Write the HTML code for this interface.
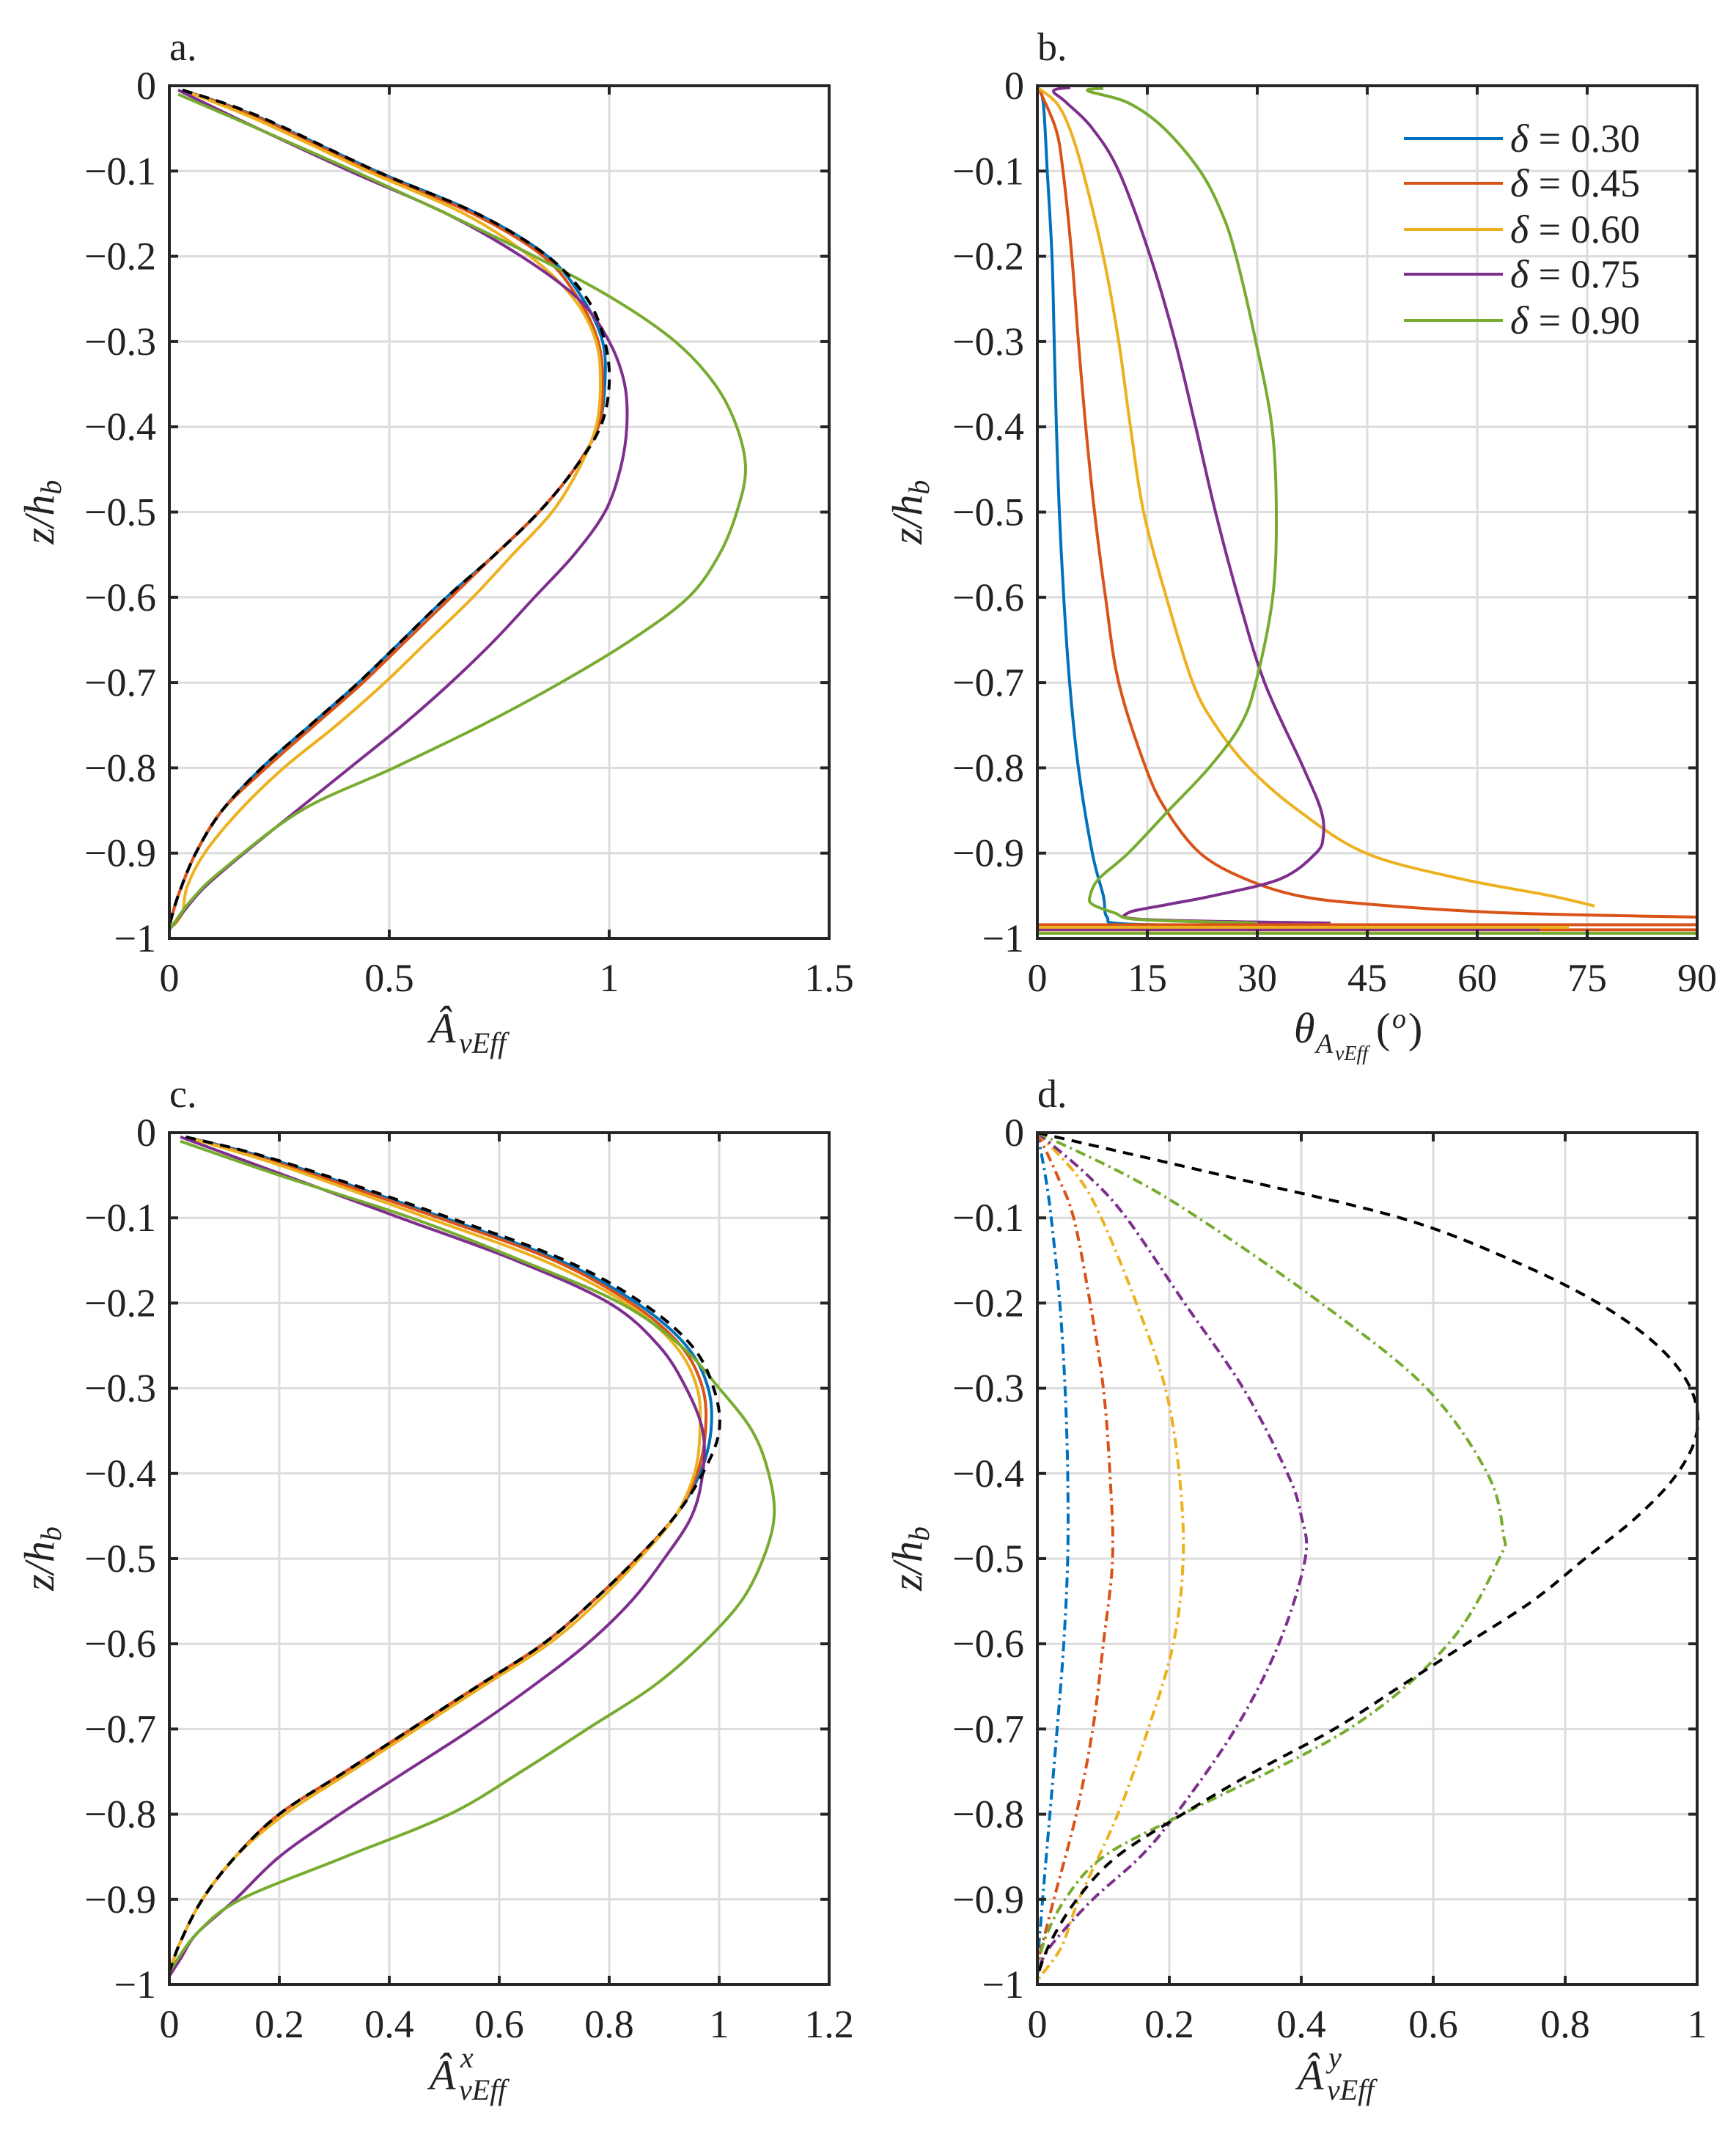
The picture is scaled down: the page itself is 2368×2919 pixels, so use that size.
<!DOCTYPE html>
<html><head><meta charset="utf-8">
<style>
html,body{margin:0;padding:0;background:#fff;}
svg{display:block;}
text{font-family:"Liberation Serif","DejaVu Serif",serif;fill:#222;}
</style></head>
<body>
<svg id="s" width="2368" height="2919" viewBox="0 0 2368 2919" xmlns="http://www.w3.org/2000/svg"></svg>
<script>
const NS="http://www.w3.org/2000/svg";
const S=document.getElementById('s');
function el(t,a,txt){const e=document.createElementNS(NS,t);for(const k in a)e.setAttribute(k,a[k]);if(txt!==undefined)e.textContent=txt;S.appendChild(e);return e;}
const C=['#0072BD','#D95319','#EDB120','#7E2F8E','#77AC30'];
function crPath(pts){let d='M'+pts[0][0].toFixed(1)+','+pts[0][1].toFixed(1);
 for(let i=0;i<pts.length-1;i++){const p0=pts[Math.max(0,i-1)],p1=pts[i],p2=pts[i+1],p3=pts[Math.min(pts.length-1,i+2)];
 const c1=[p1[0]+(p2[0]-p0[0])/6,p1[1]+(p2[1]-p0[1])/6],c2=[p2[0]-(p3[0]-p1[0])/6,p2[1]-(p3[1]-p1[1])/6];
 d+=' C'+c1[0].toFixed(1)+','+c1[1].toFixed(1)+' '+c2[0].toFixed(1)+','+c2[1].toFixed(1)+' '+p2[0].toFixed(1)+','+p2[1].toFixed(1);}
 return d;}
function axes(o){
 const {x0,x1,y0,y1,xmax,xt,xl}=o;
 const X=v=>x0+(x1-x0)*v/xmax, Y=z=>y0+(y1-y0)*(-z);
 xt.forEach(v=>{if(v>0&&v<xmax)el('line',{x1:X(v),x2:X(v),y1:y0,y2:y1,stroke:'#dcdcdc','stroke-width':3});});
 for(let i=1;i<10;i++)el('line',{x1:x0,x2:x1,y1:Y(-i/10),y2:Y(-i/10),stroke:'#dcdcdc','stroke-width':3});
 const g={X,Y};
 g.finish=function(){
  xt.forEach((v,i)=>{const x=X(v);
   el('line',{x1:x,x2:x,y1:y1,y2:y1-12,stroke:'#262626','stroke-width':4});
   el('line',{x1:x,x2:x,y1:y0,y2:y0+12,stroke:'#262626','stroke-width':4});
   el('text',{x:x,y:y1+72,'font-size':54,'text-anchor':'middle'},xl[i]);});
  for(let i=0;i<=10;i++){const y=Y(-i/10);
   el('line',{x1:x0,x2:x0+12,y1:y,y2:y,stroke:'#262626','stroke-width':4});
   el('line',{x1:x1,x2:x1-12,y1:y,y2:y,stroke:'#262626','stroke-width':4});
   el('text',{x:x0-18,y:y+18,'font-size':54,'text-anchor':'end'},i==0?'0':(i==10?'\u22121':'\u22120.'+i));}
  el('rect',{x:x0,y:y0,width:x1-x0,height:y1-y0,fill:'none',stroke:'#262626','stroke-width':4});
  const cy=(y0+y1)/2;
  const t=el('text',{x:0,y:0,'font-size':58,'font-style':'italic','text-anchor':'middle',transform:`translate(${x0-158},${cy}) rotate(-90)`});
  t.innerHTML='z/h<tspan font-size="40" dy="10">b</tspan>';
 };
 g.line=function(data,col,dash,w){const pts=data.map(p=>[X(p[0]),Y(p[1])]);
  const a={d:crPath(pts),fill:'none',stroke:col,'stroke-width':w||4,'stroke-linejoin':'round'};
  if(dash)a['stroke-dasharray']=dash;el('path',a);};
 return g;
}
function panelLabel(x,y,t){el('text',{x:x,y:y,'font-size':54},t);}
function xlab(cx,y,sup){
 const x=cx-95;
 el('text',{x:x,y:y,'font-size':58,'font-style':'italic'},'Â');
 el('text',{x:x+40,y:y+14,'font-size':40,'font-style':'italic'},'vEff');
 if(sup)el('text',{x:x+42,y:y-30,'font-size':40,'font-style':'italic'},sup);
}

const blackA=[[0.03,-0.005],[0.2,-0.035],[0.47,-0.1],[0.7,-0.15],[0.86,-0.2],[0.95,-0.25],[0.99,-0.3],[1.0,-0.35],[0.98,-0.4],[0.92,-0.45],[0.84,-0.5],[0.74,-0.55],[0.63,-0.6],[0.53,-0.65],[0.43,-0.7],[0.32,-0.75],[0.21,-0.8],[0.12,-0.85],[0.06,-0.9],[0.02,-0.95],[0.0,-0.985]];
const a_series=[
 [[0.03,-0.005],[0.2,-0.036],[0.47,-0.1],[0.7,-0.15],[0.86,-0.2],[0.94,-0.25],[0.985,-0.3],[0.99,-0.35],[0.975,-0.4],[0.92,-0.45],[0.84,-0.5],[0.74,-0.55],[0.63,-0.6],[0.53,-0.65],[0.43,-0.7],[0.32,-0.75],[0.21,-0.8],[0.12,-0.85],[0.06,-0.9],[0.02,-0.95],[0.0,-0.985]],
 [[0.03,-0.005],[0.2,-0.037],[0.46,-0.1],[0.69,-0.15],[0.85,-0.2],[0.93,-0.25],[0.975,-0.3],[0.985,-0.35],[0.975,-0.4],[0.92,-0.45],[0.84,-0.5],[0.74,-0.55],[0.64,-0.6],[0.54,-0.65],[0.44,-0.7],[0.33,-0.75],[0.22,-0.8],[0.12,-0.85],[0.06,-0.9],[0.02,-0.95],[0.0,-0.985]],
 [[0.03,-0.005],[0.2,-0.04],[0.45,-0.1],[0.67,-0.15],[0.82,-0.2],[0.92,-0.25],[0.97,-0.3],[0.98,-0.35],[0.97,-0.4],[0.93,-0.45],[0.87,-0.5],[0.78,-0.55],[0.69,-0.6],[0.59,-0.65],[0.49,-0.7],[0.38,-0.75],[0.26,-0.8],[0.16,-0.85],[0.08,-0.9],[0.04,-0.94],[0.03,-0.97],[0.01,-0.985]],
 [[0.02,-0.005],[0.18,-0.045],[0.41,-0.1],[0.63,-0.15],[0.8,-0.2],[0.93,-0.25],[1.0,-0.3],[1.035,-0.35],[1.04,-0.4],[1.025,-0.45],[0.99,-0.5],[0.92,-0.55],[0.83,-0.6],[0.74,-0.65],[0.64,-0.7],[0.53,-0.75],[0.41,-0.8],[0.29,-0.85],[0.17,-0.9],[0.08,-0.94],[0.03,-0.97],[0.0,-0.99]],
 [[0.02,-0.01],[0.2,-0.05],[0.42,-0.1],[0.63,-0.15],[0.83,-0.2],[1.01,-0.25],[1.15,-0.3],[1.24,-0.35],[1.29,-0.4],[1.31,-0.45],[1.29,-0.5],[1.25,-0.55],[1.18,-0.6],[1.05,-0.65],[0.89,-0.7],[0.71,-0.75],[0.51,-0.8],[0.3,-0.85],[0.12,-0.92],[0.05,-0.955],[0.0,-0.99]]
];
const blackC=[[0.03,-0.005],[0.2,-0.033],[0.51,-0.1],[0.72,-0.15],[0.86,-0.2],[0.95,-0.25],[0.99,-0.3],[1.0,-0.35],[0.97,-0.4],[0.92,-0.45],[0.85,-0.5],[0.77,-0.55],[0.68,-0.6],[0.56,-0.65],[0.44,-0.7],[0.32,-0.75],[0.2,-0.8],[0.12,-0.85],[0.06,-0.9],[0.02,-0.95],[0.0,-0.985]];
const c_series=[
 [[0.03,-0.005],[0.2,-0.034],[0.5,-0.1],[0.71,-0.15],[0.85,-0.2],[0.94,-0.25],[0.98,-0.3],[0.985,-0.35],[0.965,-0.4],[0.92,-0.45],[0.85,-0.5],[0.77,-0.55],[0.68,-0.6],[0.56,-0.65],[0.44,-0.7],[0.32,-0.75],[0.2,-0.8],[0.12,-0.85],[0.06,-0.9],[0.02,-0.95],[0.0,-0.985]],
 [[0.03,-0.005],[0.2,-0.036],[0.49,-0.1],[0.7,-0.15],[0.84,-0.2],[0.93,-0.25],[0.97,-0.3],[0.975,-0.35],[0.96,-0.4],[0.92,-0.45],[0.85,-0.5],[0.77,-0.55],[0.68,-0.6],[0.56,-0.65],[0.44,-0.7],[0.32,-0.75],[0.2,-0.8],[0.12,-0.85],[0.06,-0.9],[0.02,-0.95],[0.0,-0.985]],
 [[0.03,-0.005],[0.2,-0.038],[0.47,-0.1],[0.68,-0.15],[0.83,-0.2],[0.92,-0.25],[0.96,-0.3],[0.965,-0.35],[0.955,-0.4],[0.92,-0.45],[0.855,-0.5],[0.78,-0.55],[0.69,-0.6],[0.57,-0.65],[0.45,-0.7],[0.33,-0.75],[0.21,-0.8],[0.12,-0.85],[0.06,-0.9],[0.02,-0.95],[0.0,-0.985]],
 [[0.02,-0.005],[0.18,-0.043],[0.42,-0.1],[0.63,-0.15],[0.8,-0.2],[0.89,-0.25],[0.94,-0.3],[0.97,-0.35],[0.97,-0.4],[0.95,-0.45],[0.9,-0.5],[0.84,-0.55],[0.76,-0.6],[0.66,-0.65],[0.55,-0.7],[0.43,-0.75],[0.31,-0.8],[0.2,-0.85],[0.12,-0.9],[0.05,-0.94],[0.02,-0.97],[0.0,-0.99]],
 [[0.02,-0.01],[0.2,-0.05],[0.44,-0.1],[0.64,-0.15],[0.82,-0.2],[0.93,-0.25],[1.0,-0.3],[1.06,-0.35],[1.09,-0.4],[1.1,-0.45],[1.08,-0.5],[1.04,-0.55],[0.97,-0.6],[0.88,-0.65],[0.76,-0.7],[0.64,-0.75],[0.51,-0.8],[0.32,-0.85],[0.13,-0.9],[0.05,-0.94],[0.0,-0.985]]
];
const b_series=[
 [[0,0],[0.8,-0.02],[1.35,-0.1],[2.0,-0.2],[2.3,-0.3],[2.6,-0.4],[3.0,-0.5],[3.6,-0.6],[4.4,-0.7],[5.6,-0.8],[7.5,-0.9],[9.0,-0.95],[9.5,-0.975],[12,-0.983],[30,-0.985]],
 [[0,0],[2.5,-0.05],[3.5,-0.1],[4.7,-0.2],[5.6,-0.3],[6.6,-0.4],[7.8,-0.5],[9.3,-0.6],[11.1,-0.7],[14.8,-0.8],[17.6,-0.85],[22.2,-0.9],[28.3,-0.93],[35.6,-0.95],[45.4,-0.96],[63.8,-0.97],[90,-0.975]],
 [[0,-0.002],[2.6,-0.02],[4.4,-0.05],[6.2,-0.1],[9,-0.2],[11.1,-0.3],[12.7,-0.4],[14.5,-0.5],[17.6,-0.6],[21.2,-0.7],[24.3,-0.75],[28.9,-0.8],[35.6,-0.85],[44.8,-0.9],[57.7,-0.93],[70,-0.95],[76,-0.962]],
 [[4.5,-0.002],[2.2,-0.006],[4,-0.02],[7.5,-0.05],[11.1,-0.1],[15.4,-0.2],[18.8,-0.3],[21.6,-0.4],[24.3,-0.5],[27.4,-0.6],[31,-0.7],[36.3,-0.8],[38.7,-0.85],[39,-0.88],[38,-0.9],[33.2,-0.93],[24,-0.95],[17.9,-0.96],[12.4,-0.97],[15,-0.978],[40,-0.982]],
 [[9,-0.003],[6.9,-0.006],[12.4,-0.02],[17.3,-0.05],[22.2,-0.1],[25.2,-0.15],[27.1,-0.2],[29.8,-0.3],[32,-0.4],[32.6,-0.5],[32.1,-0.6],[29.8,-0.7],[27.7,-0.75],[23.4,-0.8],[17.9,-0.85],[12.4,-0.9],[8.4,-0.93],[7.2,-0.95],[7.5,-0.96],[10.5,-0.97],[14,-0.978],[30,-0.982]]
];
const d_series=[
 [[0,0],[0.012,-0.05],[0.021,-0.1],[0.034,-0.2],[0.042,-0.3],[0.046,-0.4],[0.046,-0.5],[0.04,-0.6],[0.03,-0.7],[0.019,-0.8],[0.008,-0.9],[0,-0.975]],
 [[0,0],[0.03,-0.05],[0.055,-0.1],[0.08,-0.2],[0.1,-0.3],[0.11,-0.4],[0.114,-0.5],[0.1,-0.6],[0.084,-0.7],[0.059,-0.8],[0.025,-0.9],[0,-0.975]],
 [[0,0],[0.06,-0.05],[0.097,-0.1],[0.15,-0.2],[0.194,-0.3],[0.215,-0.4],[0.221,-0.5],[0.206,-0.6],[0.168,-0.7],[0.122,-0.8],[0.063,-0.9],[0.04,-0.95],[0.025,-0.97],[0.01,-0.985],[0,-0.995]],
 [[0,0],[0.076,-0.05],[0.135,-0.1],[0.223,-0.2],[0.312,-0.3],[0.379,-0.4],[0.4,-0.45],[0.406,-0.5],[0.366,-0.6],[0.3,-0.7],[0.21,-0.8],[0.156,-0.85],[0.084,-0.9],[0.025,-0.95],[0.005,-0.975],[0,-0.99]],
 [[0,0],[0.135,-0.05],[0.244,-0.1],[0.43,-0.2],[0.59,-0.3],[0.682,-0.4],[0.706,-0.47],[0.70,-0.5],[0.623,-0.6],[0.472,-0.7],[0.22,-0.8],[0.1,-0.85],[0.042,-0.9],[0.01,-0.95],[0,-0.99]]
];
const blackD=[[0,0],[0.28,-0.05],[0.55,-0.1],[0.72,-0.15],[0.85,-0.2],[0.94,-0.25],[0.99,-0.3],[1.0,-0.35],[0.97,-0.4],[0.91,-0.45],[0.83,-0.5],[0.75,-0.55],[0.65,-0.6],[0.55,-0.65],[0.45,-0.7],[0.33,-0.75],[0.22,-0.8],[0.12,-0.85],[0.06,-0.9],[0.02,-0.95],[0,-0.99]];

let g=axes({x0:231,x1:1131,y0:117,y1:1280,xmax:1.5,xt:[0,0.5,1,1.5],xl:['0','0.5','1','1.5']});
a_series.forEach((s,i)=>g.line(s,C[i]));
g.line(blackA,'#000','14 10');
g.finish();
panelLabel(231,82,'a.');
xlab(681,1422,null);

g=axes({x0:1415,x1:2315,y0:117,y1:1280,xmax:90,xt:[0,15,30,45,60,75,90],xl:['0','15','30','45','60','75','90']});
b_series.forEach((s,i)=>g.line(s,C[i]));
const Yb=z=>117+1163*(-z);
el('line',{x1:1415,x2:2315,y1:Yb(-0.984),y2:Yb(-0.984),stroke:C[1],'stroke-width':4});
el('line',{x1:1415,x2:2315,y1:Yb(-0.99),y2:Yb(-0.99),stroke:C[1],'stroke-width':4});
el('line',{x1:1415,x2:2140,y1:Yb(-0.987),y2:Yb(-0.987),stroke:C[2],'stroke-width':4});
el('line',{x1:1415,x2:2100,y1:Yb(-0.99),y2:Yb(-0.99),stroke:C[3],'stroke-width':3});
el('line',{x1:1415,x2:2315,y1:Yb(-0.994),y2:Yb(-0.994),stroke:C[4],'stroke-width':4});
g.finish();
panelLabel(1415,82,'b.');
const legY=[189,250,313,374,437],legT=['0.30','0.45','0.60','0.75','0.90'];
legY.forEach((y,i)=>{el('line',{x1:1915,x2:2050,y1:y,y2:y,stroke:C[i],'stroke-width':4});
 const tt=el('text',{x:2060,y:y+18,'font-size':54});tt.innerHTML='<tspan font-style="italic">δ</tspan> = '+legT[i];});
{const x=1765,y=1422;
 el('text',{x:x,y:y,'font-size':58,'font-style':'italic'},'θ');
 el('text',{x:x+30,y:y+14,'font-size':38,'font-style':'italic'},'A');
 el('text',{x:x+56,y:y+24,'font-size':28,'font-style':'italic'},'vEff');
 el('text',{x:x+112,y:y,'font-size':58},'(');
 el('text',{x:x+134,y:y-20,'font-size':38,'font-style':'italic'},'o');
 el('text',{x:x+156,y:y,'font-size':58},')');}

g=axes({x0:231,x1:1131,y0:1545,y1:2707,xmax:1.2,xt:[0,0.2,0.4,0.6,0.8,1,1.2],xl:['0','0.2','0.4','0.6','0.8','1','1.2']});
c_series.forEach((s,i)=>g.line(s,C[i]));
g.line(blackC,'#000','14 10');
g.finish();
panelLabel(231,1510,'c.');
xlab(681,2850,'x');

g=axes({x0:1415,x1:2315,y0:1545,y1:2707,xmax:1,xt:[0,0.2,0.4,0.6,0.8,1],xl:['0','0.2','0.4','0.6','0.8','1']});
d_series.forEach((s,i)=>g.line(s,C[i],'14 6 3 6'));
g.line(blackD,'#000','14 10');
g.finish();
panelLabel(1415,1510,'d.');
xlab(1865,2850,'y');
</script>
</body></html>
